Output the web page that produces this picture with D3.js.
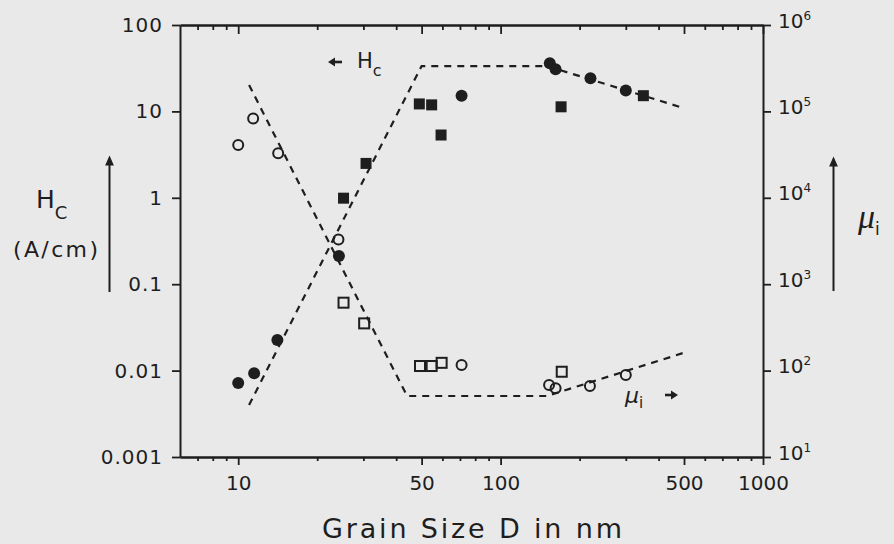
<!DOCTYPE html>
<html>
<head>
<meta charset="utf-8">
<script src="https://cdn.jsdelivr.net/npm/d3@7/dist/d3.min.js"></script>
<style>
  html, body { margin: 0; padding: 0; background: #e9e9e9; }
  svg { display: block; }
  text { font-family: "DejaVu Sans", sans-serif; fill: #1e1e1e; }
</style>
</head>
<body>
<svg id="chart" width="894" height="544"></svg>
<script>
// Grain size dependence of coercivity Hc (left axis) and initial permeability mu_i (right axis)

// Coercivity, filled circles (D in nm, Hc in A/cm)
const hcCircleD = [10, 11.5, 14.1, 24.2, 71, 154, 162, 220, 300];
const hcCircleV = [0.0072, 0.0093, 0.0226, 0.212, 15.2, 36, 30.7, 24.2, 17.4];
// Coercivity, filled squares
const hcSquareD = [25.2, 30.7, 49, 54.6, 59.3, 170, 350];
const hcSquareV = [0.99, 2.5, 12.2, 11.9, 5.33, 11.3, 15.2];
// Initial permeability, open circles
const muCircleD = [10, 11.4, 14.2, 24.1, 71, 153, 162, 219, 300];
const muCircleV = [40800, 83000, 32700, 3300, 116, 68, 62.4, 66.4, 89];
// Initial permeability, open squares
const muSquareD = [25.2, 30.2, 49.3, 54.6, 59.6, 171];
const muSquareV = [611, 352, 113, 113, 123, 97];
// Guide lines (D^6, constant, 1/D for Hc; D^-6, constant, D for mu_i)
const hcFitD = [11, 50, 150, 500];
const hcFitV = [0.004, 33.5, 33.5, 10.9];
const muFitD = [11, 44, 150, 500];
const muFitV = [202000, 50.8, 50.8, 161];

// Axis ticks
const xMajor = [10, 50, 100, 500, 1000];
const xMinor = [7, 8, 9, 20, 30, 40, 60, 70, 80, 90, 200, 300, 400, 600, 700, 800, 900];
const hcTicks = [0.001, 0.01, 0.1, 1, 10, 100];
const hcTickLabels = ["0.001", "0.01", "0.1", "1", "10", "100"];
const muTicks = [1e1, 1e2, 1e3, 1e4, 1e5, 1e6];
const muTickExp = ["1", "2", "3", "4", "5", "6"];

const ink = "#1e1e1e";
const svg = d3.select("#chart");

const plotLeft = 180, plotRight = 763, plotTop = 25, plotBottom = 457;
const x = d3.scaleLog().domain([6, 1000]).range([plotLeft, plotRight]);
const yHc = d3.scaleLog().domain([0.001, 100]).range([plotBottom, plotTop]);
const yMu = d3.scaleLog().domain([10, 1e6]).range([plotBottom, plotTop]);

function styleAxis(g) {
  g.selectAll("path.domain").attr("stroke", ink).attr("stroke-width", 2);
  g.selectAll(".tick line").attr("stroke", ink).attr("stroke-width", 1.8);
}

// Bottom axis: major ticks with labels, minor ticks pointing down
const gBottom = svg.append("g").attr("transform", `translate(0,${plotBottom})`)
  .call(d3.axisBottom(x).tickValues(xMajor).tickFormat(d3.format("d"))
    .tickSize(8).tickSizeOuter(0).tickPadding(11));
gBottom.selectAll("text").attr("font-size", 20).attr("fill", ink).style("font-family", "DejaVu Sans");
styleAxis(gBottom);
const gBottomMinor = svg.append("g").attr("transform", `translate(0,${plotBottom})`)
  .call(d3.axisBottom(x).tickValues(xMinor).tickFormat("").tickSize(4).tickSizeOuter(0));
styleAxis(gBottomMinor);

// Top axis: ticks pointing into the plot
const gTop = svg.append("g").attr("transform", `translate(0,${plotTop})`)
  .call(d3.axisBottom(x).tickValues(xMajor).tickFormat("").tickSize(9).tickSizeOuter(0));
styleAxis(gTop);
const gTopMinor = svg.append("g").attr("transform", `translate(0,${plotTop})`)
  .call(d3.axisBottom(x).tickValues(xMinor).tickFormat("").tickSize(5).tickSizeOuter(0));
styleAxis(gTopMinor);

// Left axis (Hc)
const gLeft = svg.append("g").attr("transform", `translate(${plotLeft},0)`)
  .call(d3.axisLeft(yHc).tickValues(hcTicks)
    .tickFormat((d, i) => hcTickLabels[i]).tickSize(8).tickSizeOuter(0).tickPadding(9));
gLeft.selectAll("text").attr("font-size", 20).attr("fill", ink)
  .attr("letter-spacing", 1).style("font-family", "DejaVu Sans");
styleAxis(gLeft);

// Right axis (mu_i) with powers of ten
const gRight = svg.append("g").attr("transform", `translate(${plotRight},0)`)
  .call(d3.axisRight(yMu).tickValues(muTicks).tickFormat("").tickSize(8).tickSizeOuter(0));
styleAxis(gRight);
gRight.selectAll(".tick").each(function (d, i) {
  const t = d3.select(this).append("text")
    .attr("x", 15).attr("y", 2).attr("fill", ink)
    .attr("text-anchor", "start").attr("font-size", 20);
  t.append("tspan").text("10");
  t.append("tspan").attr("font-size", 12).attr("dy", -8).text(muTickExp[i]);
});

// Guide lines
const lineHc = d3.line().x((d, i) => x(hcFitD[i])).y((d, i) => yHc(hcFitV[i]));
const lineMu = d3.line().x((d, i) => x(muFitD[i])).y((d, i) => yMu(muFitV[i]));
svg.append("path").attr("d", lineHc(hcFitD)).attr("fill", "none")
  .attr("stroke", ink).attr("stroke-width", 2.2).attr("stroke-dasharray", "7,6");
svg.append("path").attr("d", lineMu(muFitD)).attr("fill", "none")
  .attr("stroke", ink).attr("stroke-width", 2.2).attr("stroke-dasharray", "7,6");

// Hc data
svg.append("g").selectAll("circle").data(hcCircleD).join("circle")
  .attr("cx", d => x(d)).attr("cy", (d, i) => yHc(hcCircleV[i]))
  .attr("r", 6).attr("fill", ink);
svg.append("g").selectAll("rect").data(hcSquareD).join("rect")
  .attr("x", d => x(d) - 5.5).attr("y", (d, i) => yHc(hcSquareV[i]) - 5.5)
  .attr("width", 11).attr("height", 11).attr("fill", ink);

// mu_i data
svg.append("g").selectAll("circle").data(muCircleD).join("circle")
  .attr("cx", d => x(d)).attr("cy", (d, i) => yMu(muCircleV[i]))
  .attr("r", 5).attr("fill", "none").attr("stroke", ink).attr("stroke-width", 2);
svg.append("g").selectAll("rect").data(muSquareD).join("rect")
  .attr("x", d => x(d) - 5).attr("y", (d, i) => yMu(muSquareV[i]) - 5)
  .attr("width", 10).attr("height", 10).attr("fill", "none")
  .attr("stroke", ink).attr("stroke-width", 2);

// Short bold pointer arrows next to the curve labels
function sideArrow(x0, x1, y) {
  const dir = Math.sign(x1 - x0);
  svg.append("line").attr("x1", x0).attr("x2", x1 - dir * 5).attr("y1", y).attr("y2", y)
    .attr("stroke", ink).attr("stroke-width", 2.6);
  svg.append("path")
    .attr("d", `M${x1},${y} L${x1 - dir * 7},${y - 4.5} L${x1 - dir * 7},${y + 4.5} Z`)
    .attr("fill", ink);
}

// Curve labels inside the plot
sideArrow(342, 328, 62);
const hcLab = svg.append("text").attr("x", 357).attr("y", 68).attr("font-size", 21);
hcLab.append("tspan").text("H");
hcLab.append("tspan").attr("font-size", 16).attr("dy", 8).text("c");

const muLab = svg.append("text").attr("x", 625).attr("y", 403)
  .attr("font-size", 22).attr("font-style", "italic");
muLab.append("tspan").text("μ");
muLab.append("tspan").attr("font-size", 15).attr("font-style", "normal").attr("dy", 5).text("i");
sideArrow(665, 678, 395);

// Axis titles
const hcTitle = svg.append("text").attr("x", 36).attr("y", 208).attr("font-size", 25);
hcTitle.append("tspan").text("H");
hcTitle.append("tspan").attr("font-size", 18).attr("dy", 11).text("C");
svg.append("text").attr("x", 13).attr("y", 257).attr("font-size", 22)
  .attr("textLength", 85).attr("lengthAdjust", "spacing").text("(A/cm)");

const muTitle = svg.append("text").attr("x", 858).attr("y", 228)
  .attr("font-size", 34).attr("font-style", "italic")
  .style("font-family", "'Liberation Serif', serif");
muTitle.append("tspan").text("μ");
muTitle.append("tspan").attr("font-size", 17).attr("font-style", "normal")
  .style("font-family", "DejaVu Sans").attr("dy", 7).text("i");

svg.append("text").attr("x", 472).attr("y", 538).attr("text-anchor", "middle")
  .attr("font-size", 27).attr("textLength", 300).attr("lengthAdjust", "spacing")
  .text("Grain Size D in nm");

// Upward arrows beside the axis titles
function upArrow(ax, y0, y1) {
  svg.append("line").attr("x1", ax).attr("x2", ax).attr("y1", y1).attr("y2", y0 + 6)
    .attr("stroke", ink).attr("stroke-width", 2);
  svg.append("path")
    .attr("d", `M${ax - 3.5},${y0 + 8} L${ax},${y0} L${ax + 3.5},${y0 + 8} Z`)
    .attr("fill", ink).attr("stroke", ink).attr("stroke-width", 1.2);
}
upArrow(109.5, 157, 292);
upArrow(833.5, 158, 291);
</script>
</body>
</html>
